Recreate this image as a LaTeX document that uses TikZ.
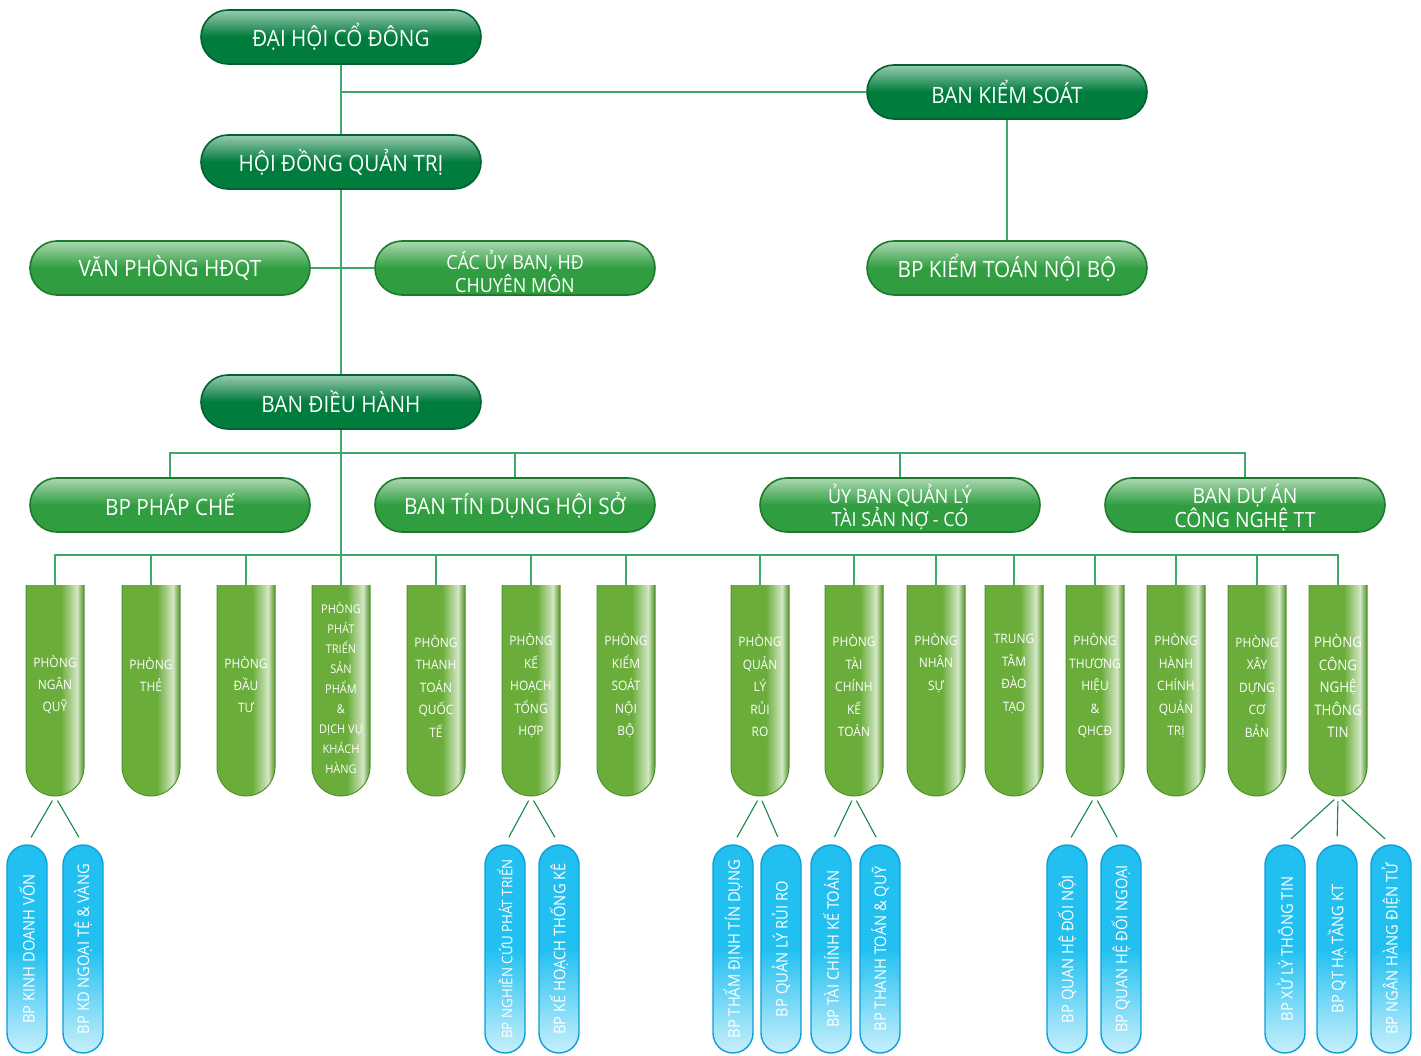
\documentclass[tikz,border=0pt]{standalone}
\usepackage{fontspec}
\setmainfont{Open Sans}[FakeStretch=0.92]
\definecolor{topgreen}{RGB}{0,124,60}
\definecolor{topedge}{RGB}{0,98,44}
\definecolor{midgreen}{RGB}{48,158,64}
\definecolor{midedge}{RGB}{28,122,44}
\definecolor{tubegreen}{RGB}{106,173,58}
\definecolor{tubeedge}{RGB}{80,148,40}
\definecolor{pillblue}{RGB}{34,192,240}
\definecolor{bluedge}{RGB}{14,158,215}
\definecolor{linkgreen}{RGB}{60,168,105}
\tikzset{
  link/.style={draw=linkgreen, line width=1.4pt},
  sublink/.style={draw=topgreen!70!linkgreen, line width=1.1pt, shorten <=5pt, shorten >=8pt},
  pill/.style={rectangle, rounded corners=27pt, minimum width=280pt, minimum height=54pt,
    inner sep=0pt, line width=1.6pt, text=white, align=center, font=\fontsize{22.5}{26}\selectfont},
  toppill/.style={pill, draw=topedge, top color=white!60!topgreen, bottom color=topgreen, middle color=topgreen},
  midpill/.style={pill, draw=midedge, top color=white!60!midgreen, bottom color=midgreen, middle color=midgreen},
  pilltext/.style={text=white, align=center, inner sep=0pt},
  tube/.style={rectangle, minimum width=58pt, minimum height=211pt, inner sep=0pt},
  tubetext/.style={text=white, align=center, inner sep=0pt},
  bpill/.style={rectangle, rounded corners=20pt, rotate=90, minimum width=208pt, minimum height=40pt,
    inner sep=0pt, draw=bluedge, line width=1.4pt, top color=pillblue, bottom color=white!75!pillblue,
    middle color=pillblue, text=white}
}
\begin{document}
\begin{tikzpicture}[x=1pt, y=-1pt]
  \useasboundingbox (0,0) rectangle (1421,1056);
  \node[toppill] (dhcd) at (341,37) {ĐẠI HỘI CỔ ĐÔNG};
  \node[toppill] (bks) at (1007,92) {BAN KIỂM SOÁT};
  \node[toppill] (hdqt) at (341,162) {HỘI ĐỒNG QUẢN TRỊ};
  \node[midpill] (vp) at (170,268) {VĂN PHÒNG HĐQT};
  \node[midpill] (cub) at (515,268) {};
  \node[pilltext, font=\fontsize{19.5}{23}\selectfont] (cubt) at (515,271) {CÁC ỦY BAN, HĐ\\CHUYÊN MÔN};
  \node[midpill] (bktnb) at (1007,268) {BP KIỂM TOÁN NỘI BỘ};
  \node[toppill] (bdh) at (341,402) {BAN ĐIỀU HÀNH};
  \node[midpill] (phapche) at (170,505) {BP PHÁP CHẾ};
  \node[midpill] (tdhs) at (515,505) {BAN TÍN DỤNG HỘI SỞ};
  \node[midpill] (ubql) at (900,505) {};
  \node[pilltext, font=\fontsize{19.5}{22}\selectfont] (ubqlt) at (900,507) {ỦY BAN QUẢN LÝ\\TÀI SẢN NỢ - CÓ};
  \node[midpill] (bdan) at (1245,505) {};
  \node[pilltext, font=\fontsize{21}{24}\selectfont] (bdant) at (1245,508) {BAN DỰ ÁN\\CÔNG NGHỆ TT};

  \foreach \x/\n/\y/\fs/\ls/\txt in {
      55/1/685/13/22/{PHÒNG\\NGÂN\\QUỸ},
      151/2/674/13/22/{PHÒNG\\THẺ},
      246/3/685/13/22/{PHÒNG\\ĐẦU\\TƯ},
      341/4/688/12/20/{PHÒNG\\PHÁT\\TRIỂN\\SẢN\\PHẨM\\\&\\DỊCH VỤ\\KHÁCH\\HÀNG},
      436/5/686/13/22.5/{PHÒNG\\THANH\\TOÁN\\QUỐC\\TẾ},
      531/6/686/13/22.5/{PHÒNG\\KẾ\\HOẠCH\\TỔNG\\HỢP},
      626/7/686/13/22.5/{PHÒNG\\KIỂM\\SOÁT\\NỘI\\BỘ},
      760/8/686/13/22.5/{PHÒNG\\QUẢN\\LÝ\\RỦI\\RO},
      854/9/686/13/22.5/{PHÒNG\\TÀI\\CHÍNH\\KẾ\\TOÁN},
      936/10/663/13/22.5/{PHÒNG\\NHÂN\\SỰ},
      1014/11/674/13/22.5/{TRUNG\\TÂM\\ĐÀO\\TẠO},
      1095/12/686/13/22.5/{PHÒNG\\THƯƠNG\\HIỆU\\\&\\QHCĐ},
      1176/13/686/13/22.5/{PHÒNG\\HÀNH\\CHÍNH\\QUẢN\\TRỊ},
      1257/14/686/13/22.5/{PHÒNG\\XÂY\\DỰNG\\CƠ\\BẢN},
      1338/15/686/14.5/22.5/{PHÒNG\\CÔNG\\NGHỆ\\THÔNG\\TIN}} {
    \begin{scope}
      \clip (\x-29,585) -- (\x+29,585) -- (\x+29,767) arc[start angle=0, end angle=180, radius=29] -- cycle;
      \fill[tubegreen] (\x-29,585) rectangle (\x+29,800);
      \shade[left color=tubegreen, right color=white!70!tubegreen] (\x+6,585) rectangle (\x+22,800);
      \shade[left color=white!70!tubegreen, right color=tubeedge] (\x+22,585) rectangle (\x+29,800);
    \end{scope}
    \draw[tubeedge, line width=1pt] (\x-29,585) -- (\x-29,767) arc[start angle=180, end angle=0, radius=29] -- (\x+29,585);
    \node[tube] (t\n) at (\x,690.5) {};
    \node[tubetext, font=\fontsize{\fs}{\ls}\selectfont] (tt\n) at (\x,\y) {\txt};
  }

  \foreach \x/\n/\fs/\txt in {27/1/16/BP KINH DOANH VỐN, 83/2/16/BP KD NGOẠI TỆ \& VÀNG,
      505/3/14.5/BP NGHIÊN CỨU PHÁT TRIỂN, 559/4/16/BP KẾ HOẠCH THỐNG KÊ,
      733/5/16/BP THẨM ĐỊNH TÍN DỤNG, 781/6/16/BP QUẢN LÝ RỦI RO,
      831/7/16/BP TÀI CHÍNH KẾ TOÁN, 880/8/16/BP THANH TOÁN \& QUỸ,
      1067/9/16/BP QUAN HỆ ĐỐI NỘI, 1121/10/16/BP QUAN HỆ ĐỐI NGOẠI,
      1285/11/16/BP XỬ LÝ THÔNG TIN, 1337/12/16/BP QT HẠ TẦNG KT,
      1391/13/16/BP NGÂN HÀNG ĐIỆN TỬ}
    \node[bpill, font=\fontsize{\fs}{20}\selectfont] (b\n) at (\x,949) {\txt};

  \draw[link] (dhcd.south) -- (hdqt.north);
  \draw[link] (bks.west) -- (bks.west -| dhcd.south);
  \draw[link] (bks.south) -- (bktnb.north);
  \draw[link] (vp.east) -- (cub.west);
  \draw[link] (hdqt.south) -- (bdh.north);
  \draw[link] (bdh.south) -- (t4.north);
  \coordinate (bus1) at (341,453);
  \draw[link] (phapche.north) |- (bus1) -| (bdan.north);
  \draw[link] (tdhs.north) -- (tdhs.north |- bus1);
  \draw[link] (ubql.north) -- (ubql.north |- bus1);
  \coordinate (bus2) at (341,555);
  \draw[link] (t1.north) |- (bus2) -| (t15.north);
  \foreach \i in {2,3,5,6,7,8,9,10,11,12,13,14}
    \draw[link] (t\i.north) -- (t\i.north |- bus2);
  \foreach \a/\b in {t1/b1, t1/b2, t6/b3, t6/b4, t8/b5, t8/b6, t9/b7, t9/b8,
      t12/b9, t12/b10, t15/b11, t15/b12, t15/b13}
    \draw[sublink] (\a.south) -- (\b.east);
\end{tikzpicture}
\end{document}
